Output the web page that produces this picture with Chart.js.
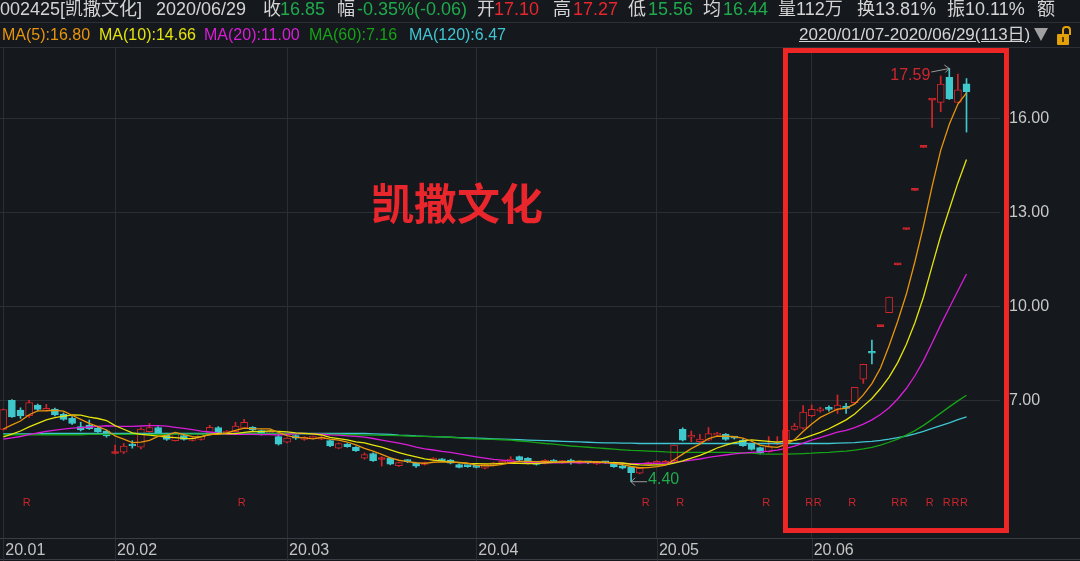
<!DOCTYPE html>
<html><head><meta charset="utf-8">
<script src="https://cdn.jsdelivr.net/npm/chart.js@4.4.0/dist/chart.umd.min.js"></script>
<style>
html,body{margin:0;padding:0;background:#15181d;width:1080px;height:561px;overflow:hidden;}
#wrap{position:relative;width:1080px;height:561px;overflow:hidden;}
canvas{position:absolute;left:0;top:0;}
.t{position:absolute;white-space:nowrap;line-height:1;font-family:'Liberation Sans',Arial,'Noto Sans CJK SC',sans-serif;}
.r1{top:0px;font-size:18px;}
.r2{top:27px;font-size:16px;}
.w{color:#d4d4d4}.gr{color:#1faa4c}.rd{color:#e8262d}
</style></head>
<body><div id="wrap">
<canvas id="c" width="1080" height="561"></canvas>
<div class="t r1 w" style="left:0px">002425[凯撒文化]</div>
<div class="t r1 w" style="left:156px">2020/06/29</div>
<div class="t r1 w" style="left:263px">收</div><div class="t r1 gr" style="left:280px">16.85</div>
<div class="t r1 w" style="left:337px">幅</div><div class="t r1 gr" style="left:357px">-0.35%(-0.06)</div>
<div class="t r1 w" style="left:477px">开</div><div class="t r1 rd" style="left:494px">17.10</div>
<div class="t r1 w" style="left:553px">高</div><div class="t r1 rd" style="left:573px">17.27</div>
<div class="t r1 w" style="left:628px">低</div><div class="t r1 gr" style="left:648px">15.56</div>
<div class="t r1 w" style="left:703px">均</div><div class="t r1 gr" style="left:723px">16.44</div>
<div class="t r1 w" style="left:778px">量112万</div>
<div class="t r1 w" style="left:857px">换13.81%</div>
<div class="t r1 w" style="left:947px">振10.11%</div>
<div class="t r1 w" style="left:1037px">额</div>
<div class="t r2" style="left:2px;color:#e8950c">MA(5):16.80</div>
<div class="t r2" style="left:99px;color:#e4e40c">MA(10):14.66</div>
<div class="t r2" style="left:204px;color:#d81ed8">MA(20):11.00</div>
<div class="t r2" style="left:309px;color:#16a316">MA(60):7.16</div>
<div class="t r2" style="left:409px;color:#3fc6d2">MA(120):6.47</div>
<div class="t w" style="left:799px;top:26px;font-size:17px;text-decoration:underline">2020/01/07-2020/06/29(113日)</div>
<div style="position:absolute;left:1034px;top:28px;width:0;height:0;border-left:7.5px solid transparent;border-right:7.5px solid transparent;border-top:13px solid #a0a0a0"></div>
<div style="position:absolute;left:1062px;top:26px;width:5px;height:7px;border:2px solid #e3a008;border-bottom:none;border-radius:4px 4px 0 0"></div>
<div style="position:absolute;left:1057px;top:34px;width:12px;height:11px;background:#e3a008;border-radius:1px"></div>
<div style="position:absolute;left:1062px;top:37px;width:2px;height:5px;background:#5a3f00"></div>
<div class="t" style="left:371px;top:180px;font-size:43px;font-weight:bold;color:#e8262b;font-family:'Noto Sans CJK SC',sans-serif">凯撒文化</div>
</div>
<script>
// ---- data ----
const opens = [6.07,7.00,6.69,6.51,6.85,6.68,6.72,6.55,6.42,6.16, 6.21,6.11,6.02,5.30,5.34,5.56,5.50,6.00,6.13,5.91, 5.71,5.87,5.72,5.75,5.95,6.13,5.95,6.00,6.11,6.14, 6.03,5.95,5.84,5.66,5.87,5.75,5.79,5.76,5.71,5.47, 5.60,5.50,5.15,5.30,5.11,5.15,4.91,5.07,4.99,4.95, 5.09,5.12,5.09,4.95,4.91,4.91,4.83,4.93,4.99,5.01, 5.20,5.15,5.00,4.99,5.09,5.01,5.09,4.99,5.03,4.97, 5.03,5.01,4.91,4.86,4.67,4.93,4.99,4.99,5.07,6.07, 5.82,5.68,5.73,5.89,5.91,5.80,5.73,5.60,5.49,5.36, 5.60,5.63,6.07,6.11,6.51,6.66,6.74,6.71,6.75,6.92, 7.67,8.52,9.35,9.80,11.32,12.45,13.70,15.07,16.58,16.51, 17.31,16.51,17.10];
const highs = [6.72,7.02,6.76,7.00,6.88,6.87,6.75,6.60,6.48,6.30, 6.37,6.14,6.05,5.57,5.62,5.71,6.12,6.26,6.16,5.95, 5.97,5.89,5.81,5.94,6.20,6.16,6.03,6.30,6.39,6.16, 6.05,6.02,5.94,5.81,5.89,5.84,5.86,5.84,5.73,5.64, 5.62,5.52,5.32,5.32,5.20,5.17,5.03,5.10,5.02,5.03, 5.17,5.14,5.11,4.97,4.93,4.93,4.98,5.02,5.08,5.20, 5.22,5.17,5.02,5.11,5.11,5.08,5.12,5.05,5.05,5.05, 5.05,5.03,4.93,4.88,4.85,5.03,5.07,5.08,5.57,6.12, 6.02,5.91,6.13,5.98,5.94,5.84,5.75,5.62,5.51,5.84, 5.84,6.07,6.26,6.83,6.85,6.78,6.82,7.17,6.90,7.41, 8.15,8.92,9.35,10.29,11.32,12.45,13.70,15.07,16.58,17.35, 17.59,17.41,17.27];
const lows = [6.05,6.45,6.42,6.45,6.66,6.66,6.50,6.36,6.23,6.02, 6.07,5.97,5.82,5.29,5.30,5.47,5.45,5.98,5.90,5.72, 5.70,5.73,5.70,5.73,5.93,5.93,5.93,5.98,6.09,6.03, 5.89,5.93,5.57,5.64,5.75,5.72,5.77,5.74,5.52,5.45, 5.50,5.37,5.12,5.05,4.90,4.94,4.89,5.01,4.86,4.93, 5.07,5.05,4.97,4.84,4.86,4.84,4.81,4.91,4.97,4.99, 5.07,4.97,4.93,4.97,5.01,4.99,4.96,4.97,4.98,4.95, 4.98,4.86,4.81,4.40,4.65,4.91,4.97,4.97,5.05,5.70, 5.68,5.62,5.71,5.84,5.72,5.76,5.53,5.41,5.29,5.34, 5.58,5.60,6.04,6.08,6.48,6.62,6.65,6.58,6.58,6.90, 7.54,8.16,9.35,9.80,11.32,12.45,13.70,15.07,15.71,16.21, 16.60,16.51,15.56];
const closes = [6.70,6.47,6.50,6.93,6.71,6.72,6.53,6.39,6.26,6.05, 6.09,6.00,5.86,5.31,5.54,5.54,6.08,6.13,5.95,5.75, 5.95,5.75,5.79,5.92,6.14,5.95,6.00,6.18,6.30,6.05, 5.91,6.00,5.60,5.79,5.79,5.82,5.84,5.82,5.54,5.62, 5.52,5.39,5.27,5.07,5.12,4.96,5.01,5.04,4.90,5.01, 5.15,5.07,4.99,4.86,4.88,4.86,4.96,5.00,5.06,5.12, 5.09,4.99,4.95,5.09,5.03,5.06,5.03,5.03,5.00,5.03, 5.00,4.88,4.83,4.69,4.83,5.01,5.05,5.05,5.57,5.73, 5.89,5.76,5.94,5.94,5.75,5.79,5.55,5.43,5.31,5.52, 5.66,6.05,6.18,6.62,6.71,6.71,6.71,6.85,6.74,7.41, 8.15,8.50,9.35,10.29,11.32,12.45,13.70,15.07,16.58,17.09, 16.62,16.91,16.85];
// closes just before the window (inferred from where MA5/10/20 start)
const prevCloses = [5.70,5.65,5.72,5.68,5.75,5.70,5.66,5.72,5.70,5.68,5.55,5.52,5.60,5.58,5.62,5.82,5.88,5.93,6.09];
// long moving averages
const ma60 = [5.90,5.90,5.90,5.90,5.90,5.90,5.90,5.90,5.90,5.90, 5.91,5.91,5.91,5.91,5.91,5.91,5.91,5.91,5.91,5.91, 5.92,5.92,5.92,5.92,5.92,5.93,5.93,5.93,5.93,5.93, 5.93,5.93,5.93,5.93,5.93,5.93,5.92,5.92,5.91,5.91, 5.90,5.90,5.89,5.89,5.88,5.88,5.87,5.86,5.85,5.85, 5.84,5.83,5.82,5.80,5.78,5.77,5.76,5.75,5.74,5.73, 5.70,5.68,5.65,5.62,5.60,5.57,5.54,5.52,5.50,5.48, 5.46,5.44,5.42,5.40,5.39,5.38,5.37,5.35,5.34,5.34, 5.34,5.34,5.34,5.34,5.34,5.33,5.32,5.31,5.29,5.28, 5.28,5.28,5.29,5.30,5.31,5.33,5.34,5.36,5.38,5.41, 5.45,5.50,5.57,5.66,5.76,5.89,6.03,6.20,6.39,6.59, 6.79,6.98,7.16];
const ma120 = [5.93,5.93,5.93,5.93,5.93,5.94,5.94,5.94,5.94,5.94, 5.94,5.94,5.94,5.94,5.94,5.94,5.94,5.94,5.94,5.94, 5.94,5.94,5.94,5.94,5.94,5.94,5.94,5.94,5.94,5.94, 5.94,5.94,5.94,5.94,5.94,5.94,5.94,5.94,5.94,5.94, 5.94,5.94,5.94,5.93,5.92,5.91,5.89,5.88,5.86,5.85, 5.84,5.83,5.82,5.81,5.80,5.79,5.78,5.77,5.76,5.75, 5.74,5.73,5.72,5.71,5.70,5.69,5.68,5.67,5.66,5.65, 5.64,5.64,5.63,5.63,5.62,5.62,5.62,5.62,5.62,5.62, 5.62,5.62,5.62,5.62,5.62,5.62,5.62,5.62,5.62,5.62, 5.62,5.62,5.62,5.62,5.62,5.62,5.62,5.63,5.64,5.65, 5.67,5.69,5.72,5.76,5.81,5.86,5.93,6.01,6.10,6.19, 6.28,6.38,6.47];
const monthTicks = [0,13,33,55,76,94];
const monthLabels = ['20.01','20.02','20.03','20.04','20.05','20.06'];
const priceTicks = [7,10,13,16];
const rSignals = [3,28,75,79,89,94,95,99,104,105,108,110,111,112];
const highMark = {index:110, value:17.59};
const lowMark = {index:73, value:4.40};

// ---- styling ----
const BG = '#15181d', GRID = '#2b2e33', UP = '#d3262c', DOWN = '#3fc9cc';
const MA_COLORS = ['#e8950c','#e4e40c','#d81ed8','#16a316','#3fc6d2'];
const xMin = -0.3837, xMax = 115.895, yMin = 2.604, yMax = 18.276;
const rRowValue = 3.72;
const boxX = [90.95, 116.65], boxY = [18.164, 2.843];

function movingAverage(n){
  const all = prevCloses.concat(closes);
  return closes.map((c,i)=>{const end = prevCloses.length+i; let s=0; for(let k=end-n+1;k<=end;k++) s+=all[k]; return s/n;});
}
const ma5 = movingAverage(5), ma10 = movingAverage(10), ma20 = movingAverage(20);
const isUp = i => closes[i] >= opens[i];
const bodyFill = i => !isUp(i) ? DOWN : (Math.abs(closes[i]-opens[i]) < 0.03 ? UP : BG);
const pts = arr => arr.map((v,i)=>({x:i,y:v}));
const lineDs = (label, arr, color) => ({type:'line', label, data:pts(arr), borderColor:color, borderWidth:1.3, pointRadius:0, tension:0, fill:false, order:1});

const overlay = {
  id:'overlay',
  afterDraw(chart){
    const {ctx, scales:{x,y}} = chart;
    ctx.save();
    ctx.lineWidth = 1;
    ctx.strokeStyle = '#2c2f35';
    [22.5,47.5].forEach(v=>{ctx.beginPath();ctx.moveTo(0,v);ctx.lineTo(1080,v);ctx.stroke();});
    ctx.strokeStyle = '#3a3d43';
    [538.5,559.5].forEach(v=>{ctx.beginPath();ctx.moveTo(0,v);ctx.lineTo(1080,v);ctx.stroke();});
    ctx.strokeStyle = GRID;
    monthTicks.forEach(v=>{const px=Math.round(x.getPixelForValue(v))+0.5;ctx.beginPath();ctx.moveTo(px,539);ctx.lineTo(px,561);ctx.stroke();});
    // R signals
    ctx.font = '11px "Liberation Sans", Arial';
    ctx.fillStyle = '#c8262b'; ctx.textAlign='center'; ctx.textBaseline='middle';
    rSignals.forEach(i=>ctx.fillText('R', x.getPixelForValue(i)-2.5, y.getPixelForValue(rRowValue)));
    // high mark
    let tx = x.getPixelForValue(highMark.index), ty = y.getPixelForValue(highMark.value);
    ctx.strokeStyle = '#9a9a9a';
    ctx.beginPath(); ctx.moveTo(tx-18, ty+3.5); ctx.lineTo(tx, ty); ctx.stroke();
    ctx.beginPath(); ctx.moveTo(tx-5, ty-3.5); ctx.lineTo(tx, ty); ctx.lineTo(tx-4, ty+4); ctx.stroke();
    ctx.font = '16px "Liberation Sans", Arial'; ctx.fillStyle = '#d02630'; ctx.textAlign='right';
    ctx.fillText(highMark.value.toFixed(2), tx-19, ty+7);
    // low mark
    tx = x.getPixelForValue(lowMark.index); ty = y.getPixelForValue(lowMark.value);
    ctx.beginPath(); ctx.moveTo(tx, ty); ctx.lineTo(tx+16, ty); ctx.stroke();
    ctx.beginPath(); ctx.moveTo(tx+4, ty-4); ctx.lineTo(tx, ty); ctx.lineTo(tx+4, ty+4); ctx.stroke();
    ctx.fillStyle = '#1faa4c'; ctx.textAlign='left';
    ctx.fillText(lowMark.value.toFixed(2), tx+17, ty-2);
    // highlight box
    ctx.strokeStyle = '#ee2626'; ctx.lineWidth = 5;
    const l = x.getPixelForValue(boxX[0]), r = x.getPixelForValue(boxX[1]);
    const t = y.getPixelForValue(boxY[0]), b = y.getPixelForValue(boxY[1]);
    ctx.strokeRect(l, t, r-l, b-t);
    ctx.restore();
  }
};

Chart.defaults.font.family = "'Liberation Sans', Arial, sans-serif";
new Chart(document.getElementById('c'), {
  type:'bar',
  data:{datasets:[
    lineDs('MA5', ma5, MA_COLORS[0]),
    lineDs('MA10', ma10, MA_COLORS[1]),
    lineDs('MA20', ma20, MA_COLORS[2]),
    lineDs('MA60', ma60, MA_COLORS[3]),
    lineDs('MA120', ma120, MA_COLORS[4]),
    {label:'wick', data: closes.map((c,i)=>({x:i,y:[lows[i],highs[i]]})),
     backgroundColor: ctx=>isUp(ctx.dataIndex)?UP:DOWN, barThickness:1, grouped:false, minBarLength:1, order:3},
    {label:'body', data: closes.map((c,i)=>({x:i,y:[Math.min(opens[i],c),Math.max(opens[i],c)]})),
     backgroundColor: ctx=>bodyFill(ctx.dataIndex), borderColor: ctx=>isUp(ctx.dataIndex)?UP:DOWN,
     borderWidth:1, borderSkipped:false, barThickness:7, grouped:false, minBarLength:2, order:2}
  ]},
  options:{
    responsive:false, animation:false, devicePixelRatio:1,
    layout:{padding:{top:47,left:0,right:0,bottom:0}},
    plugins:{legend:{display:false}, tooltip:{enabled:false}},
    scales:{
      x:{type:'linear', min:xMin, max:xMax, offset:false, bounds:'data',
        grid:{offset:false, color:GRID, drawTicks:false, lineWidth:1},
        border:{display:false},
        afterBuildTicks: s=>{ s.ticks = monthTicks.map(v=>({value:v})); },
        afterFit: s=>{ s.height = 23; },
        ticks:{callback: v=>monthLabels[monthTicks.indexOf(v)], color:'#c4c4c4', font:{size:16}, align:'start', labelOffset:2, padding:3, maxRotation:0, autoSkip:false}
      },
      y:{type:'linear', position:'right', min:yMin, max:yMax, beginAtZero:false, bounds:'data',
        grid:{color:GRID, drawTicks:false},
        border:{display:false},
        afterBuildTicks: s=>{ s.ticks = priceTicks.map(v=>({value:v})); },
        afterFit: s=>{ s.width = 80; },
        ticks:{callback: v=>Number(v).toFixed(2), color:'#c8c8c8', font:{size:16}, padding:9}
      }
    }
  },
  plugins:[overlay]
});
</script>
</body></html>
